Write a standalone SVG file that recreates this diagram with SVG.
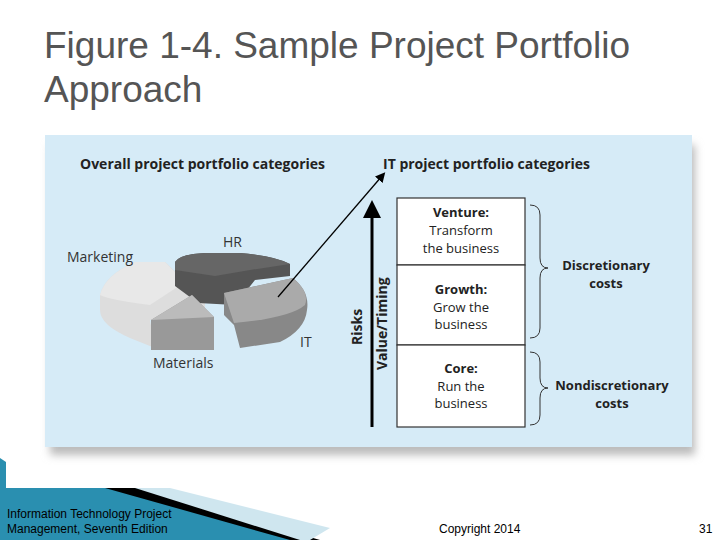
<svg xmlns="http://www.w3.org/2000/svg" width="720" height="540" viewBox="0 0 720 540">
<style>
.t{font-family:"Open Sans","Liberation Sans",sans-serif;fill:#222}
.b{font-weight:bold}
.lbl{font-family:"Open Sans","Liberation Sans",sans-serif;font-size:14px;fill:#333}
.box{fill:#fff;stroke:#333;stroke-width:1.2}
.ft{font-family:"Liberation Sans",sans-serif;font-size:12px;fill:#000}
</style>
<defs>
<marker id="ah" markerWidth="10" markerHeight="10" refX="5" refY="5" orient="auto" markerUnits="userSpaceOnUse"><path d="M0,0 L10,5 L0,10 z" fill="#000"/></marker>
<filter id="sh" x="-5%" y="-5%" width="110%" height="120%"><feGaussianBlur stdDeviation="4"/></filter>
</defs>
<rect width="720" height="540" fill="#fff"/>
<text x="44" y="58" font-family="Liberation Sans,sans-serif" font-size="37" fill="#555">Figure 1-4. Sample Project Portfolio</text>
<text x="44" y="102" font-family="Liberation Sans,sans-serif" font-size="37" fill="#555">Approach</text>
<rect x="50" y="145" width="645" height="310" fill="#bbb" filter="url(#sh)"/>
<rect x="45" y="135" width="647" height="312" fill="#d6ebf7"/>
<text class="t b" x="80" y="169" font-size="14">Overall project portfolio categories</text>
<text class="t b" x="383" y="169" font-size="14">IT project portfolio categories</text>
<g id="pie">
<path d="M100,295 Q105,275 135,262 L165,262 L205,300 L205,318 L150,320 L155,348 L130,338 Q100,325 100,310 Z" fill="#ddd"/>
<path d="M100,295 Q105,275 135,262 L165,262 L185,282 L150,305 Q110,300 100,295Z" fill="#e8e8e8"/>
<path d="M175,262 Q180,254 205,253 L240,253 Q275,256 290,264 L290,276 L255,280 L235,305 L198,303 L175,286 Z" fill="#555"/>
<path d="M175,262 Q180,254 205,253 L240,253 Q275,256 290,264 L250,270 L215,276 L175,270 Z" fill="#666"/>
<path d="M151,320 L192,295 L214,317 L214,350 L151,350 Z" fill="#999"/>
<path d="M151,320 L192,295 L214,317 Z" fill="#bbb"/>
<path d="M224,293 L293,278 Q310,292 307,310 Q305,330 280,342 L240,348 L234,325 L224,315 Z" fill="#888"/>
<path d="M224,293 L293,278 Q310,292 305,305 Q290,318 234,323 Z" fill="#aaa"/>
</g>
<text class="lbl" x="67" y="262">Marketing</text>
<text class="lbl" x="223" y="247">HR</text>
<text class="lbl" x="300" y="347">IT</text>
<text class="lbl" x="153" y="368">Materials</text>
<g id="connectors">
<line x1="278" y1="297" x2="382" y2="176" stroke="#000" stroke-width="1.3" marker-end="url(#ah)"/>
<line x1="372" y1="427" x2="372" y2="215" stroke="#000" stroke-width="3"/>
<path d="M363,218 L372,200 L381,218 Z" fill="#000"/>
<path d="M530,205 Q540,205 540,215 L540,258 Q540,268 548,268 Q540,268 540,278 L540,328 Q540,338 530,338" fill="none" stroke="#333" stroke-width="1"/>
<path d="M530,352 Q540,352 540,362 L540,378 Q540,388 548,388 Q540,388 540,398 L540,415 Q540,425 530,425" fill="none" stroke="#333" stroke-width="1"/>
</g>
<text class="t b" font-size="14" transform="translate(362,345) rotate(-90)">Risks</text>
<text class="t b" font-size="14" transform="translate(387,370) rotate(-90)">Value/Timing</text>
<g id="venture"><rect class="box" x="397" y="198" width="128" height="67"/>
<text class="t b" x="461" y="217" font-size="13" text-anchor="middle">Venture:</text>
<text class="t" x="461" y="235" font-size="13" text-anchor="middle">Transform</text>
<text class="t" x="461" y="253" font-size="13" text-anchor="middle">the business</text></g>
<g id="growth"><rect class="box" x="397" y="265" width="128" height="80"/>
<text class="t b" x="461" y="294" font-size="13" text-anchor="middle">Growth:</text>
<text class="t" x="461" y="312" font-size="13" text-anchor="middle">Grow the</text>
<text class="t" x="461" y="329" font-size="13" text-anchor="middle">business</text></g>
<g id="core"><rect class="box" x="397" y="345" width="128" height="82"/>
<text class="t b" x="461" y="373" font-size="13" text-anchor="middle">Core:</text>
<text class="t" x="461" y="391" font-size="13" text-anchor="middle">Run the</text>
<text class="t" x="461" y="408" font-size="13" text-anchor="middle">business</text></g>
<text class="t b" x="606" y="270" font-size="13" text-anchor="middle">Discretionary</text>
<text class="t b" x="606" y="288" font-size="13" text-anchor="middle">costs</text>
<text class="t b" x="612" y="390" font-size="13" text-anchor="middle">Nondiscretionary</text>
<text class="t b" x="612" y="408" font-size="13" text-anchor="middle">costs</text>
<g id="deco">
<path d="M0,458 L6,462 L6,488 L110,488 L310,540 L0,540 Z" fill="#2a8fb0"/>
<path d="M105,488 L140,488 L320,540 L290,540 Z" fill="#000"/>
<path d="M135,488 L170,488 L330,528 L310,540 L300,540 Z" fill="#cfe6ef"/>
</g>
<text class="ft" x="7" y="518">Information Technology Project</text>
<text class="ft" x="7" y="533">Management, Seventh Edition</text>
<text class="ft" x="439" y="533">Copyright 2014</text>
<text class="ft" x="699" y="533">31</text>
</svg>
